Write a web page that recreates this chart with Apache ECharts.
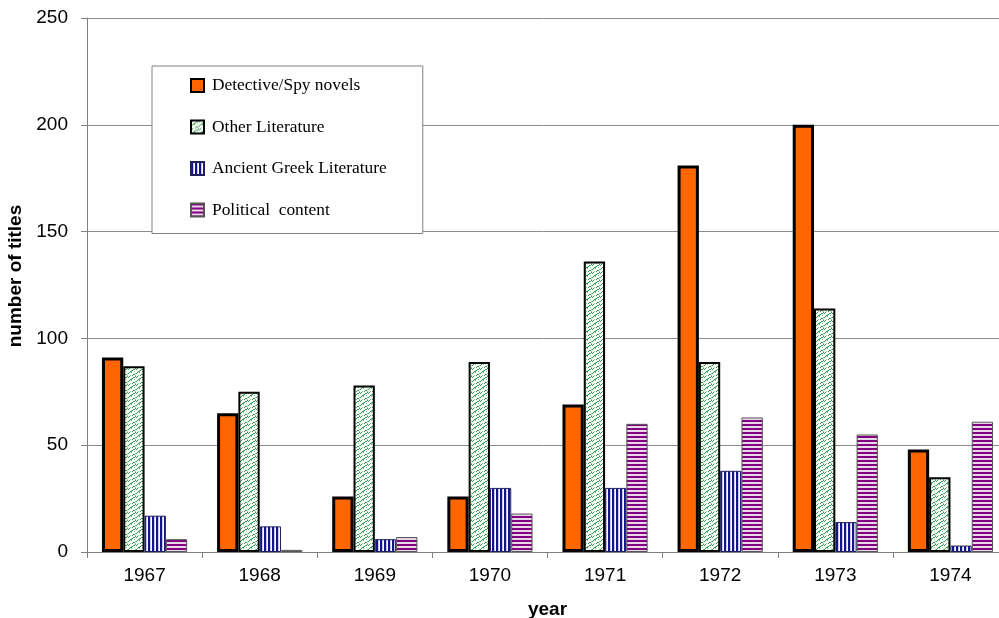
<!DOCTYPE html>
<html>
<head>
<meta charset="utf-8">
<script src="https://cdn.jsdelivr.net/npm/echarts@6/dist/echarts.min.js"></script>
<style>
html,body{margin:0;padding:0;background:#fff;}
#chart{width:999px;height:618px;}
</style>
</head>
<body>
<div id="chart"></div>
<script>
const years = ['1967','1968','1969','1970','1971','1972','1973','1974'];
const seriesNames = ['Detective/Spy novels','Other Literature','Ancient Greek Literature','Political  content'];
const detective = [91, 65, 26, 26, 69, 181, 200, 48];
const otherLit = [87, 75, 78, 89, 136, 89, 114, 35];
const greekLit = [17, 12, 6, 30, 30, 38, 14, 3];
const political = [6, 1, 7, 18, 60, 63, 55, 61];
const yTicks = [0, 50, 100, 150, 200, 250];

function tile(w, h, draw) {
  const c = document.createElement('canvas');
  c.width = w; c.height = h;
  const ctx = c.getContext('2d');
  ctx.fillStyle = '#ffffff';
  ctx.fillRect(0, 0, w, h);
  draw(ctx);
  return { image: c, repeat: 'repeat' };
}
const greenPattern = tile(8, 8, ctx => {
  ctx.fillStyle = '#2f9a45';
  const pts = [[0,5],[1,4],[2,3],[3,3],[4,2],[5,1],[6,1],[7,0],[4,7],[5,6],[6,6],[0,1],[1,0]];
  pts.forEach(p => ctx.fillRect(p[0], p[1], 1, 1));
  ctx.fillStyle = '#8fcc9c';
  [[3,4],[7,7],[2,7],[6,3],[3,2],[7,5]].forEach(p => ctx.fillRect(p[0], p[1], 1, 1));
});
const bluePattern = tile(4, 4, ctx => {
  ctx.fillStyle = '#14148c';
  ctx.fillRect(0, 0, 2, 4);
  ctx.fillStyle = '#c8c8f0';
  ctx.fillRect(2, 0, 1, 4);
});
const purplePattern = tile(4, 4, ctx => {
  ctx.fillStyle = '#800080';
  ctx.fillRect(0, 0, 4, 2);
  ctx.fillStyle = '#ead8ea';
  ctx.fillRect(0, 2, 4, 2);
});

const chart = echarts.init(document.getElementById('chart'), null, {renderer: 'canvas'});
const option = {
  animation: false,
  backgroundColor: '#ffffff',
  grid: { left: 87, top: 18, height: 534, width: 921, containLabel: false, outerBoundsMode: 'none' },
  legend: {
    orient: 'vertical',
    left: 152,
    top: 66,
    padding: [11, 36, 15, 38],
    itemGap: 24.5,
    itemWidth: 13,
    itemHeight: 13,
    borderColor: '#808080',
    borderWidth: 1,
    backgroundColor: '#ffffff',
    icon: 'rect',
    textStyle: { fontFamily: 'Liberation Serif', fontSize: 17.4, color: '#000', padding: [0,0,0,3] },
    data: seriesNames
  },
  xAxis: {
    type: 'category',
    data: years,
    name: 'year',
    nameLocation: 'middle',
    nameGap: 48,
    nameTextStyle: { fontFamily: 'Liberation Sans', fontSize: 19, fontWeight: 'bold', color: '#000' },
    axisLine: { show: true, lineStyle: { color: '#808080', width: 1 } },
    axisTick: { show: true, interval: 0, length: 6, lineStyle: { color: '#808080' } },
    axisLabel: { fontFamily: 'Liberation Sans', fontSize: 19, color: '#000', margin: 14 },
    splitLine: { show: false }
  },
  yAxis: {
    type: 'value',
    min: yTicks[0],
    max: yTicks[yTicks.length - 1],
    interval: 50,
    name: 'number of titles',
    nameLocation: 'middle',
    nameRotate: 90,
    nameGap: 61,
    nameTextStyle: { fontFamily: 'Liberation Sans', fontSize: 19, fontWeight: 'bold', color: '#000', padding: [0, 0, 0, 18] },
    axisLine: { show: true, lineStyle: { color: '#808080', width: 1 } },
    axisTick: { show: true, length: 6, lineStyle: { color: '#808080' } },
    axisLabel: { fontFamily: 'Liberation Sans', fontSize: 19, color: '#000', margin: 19 },
    splitLine: { show: true, lineStyle: { color: '#8c8c8c', width: 1 } }
  },
  series: [
    { name: seriesNames[0], type: 'bar', data: detective, barGap: '0%', barCategoryGap: '26%',
      itemStyle: { color: '#ff6600', borderColor: '#000', borderWidth: 3 } },
    { name: seriesNames[1], type: 'bar', data: otherLit, barGap: '0%', barCategoryGap: '26%',
      itemStyle: { color: greenPattern, borderColor: '#000', borderWidth: 2 } },
    { name: seriesNames[2], type: 'bar', data: greekLit, barGap: '0%', barCategoryGap: '26%',
      itemStyle: { color: bluePattern, borderColor: '#202060', borderWidth: 1 } },
    { name: seriesNames[3], type: 'bar', data: political, barGap: '0%', barCategoryGap: '26%',
      itemStyle: { color: purplePattern, borderColor: '#555', borderWidth: 1 } }
  ]
};
chart.setOption(option);
</script>
</body>
</html>
